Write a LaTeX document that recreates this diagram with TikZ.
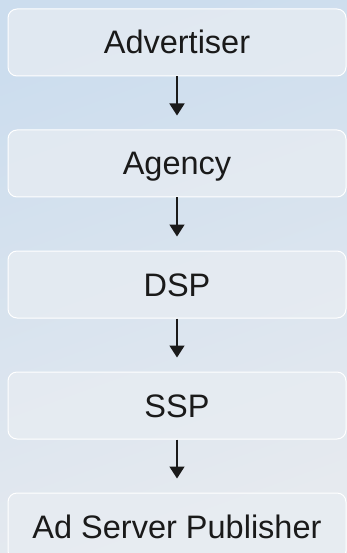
\documentclass[tikz,border=0pt]{standalone}
\usepackage{fontspec}
\setmainfont{Liberation Sans}
\usepackage{tikz}
\usetikzlibrary{positioning,arrows.meta}
\definecolor{bgtop}{HTML}{CCDDEE}
\definecolor{bgbot}{HTML}{E6EAEF}
\definecolor{boxfill}{HTML}{E8EDF3}
\definecolor{ink}{HTML}{1A1A1A}

\begin{document}
\begin{tikzpicture}[x=1pt,y=-1pt]
    \tikzstyle{party}=[draw=white, line width=1pt, fill=boxfill, fill opacity=0.75, text opacity=1,
      rounded corners=9pt, minimum width=338pt, minimum height=67pt,
      text height=23pt, text depth=0pt, text=ink, font=\fontsize{32.5}{36}\selectfont]
    \tikzstyle{flow}=[ink, line width=1.6pt, -{Triangle[width=15pt,length=12pt]}, shorten >=14pt]
    \useasboundingbox (0,0) rectangle (347,553);
    \shade[top color=bgtop, bottom color=bgbot, shading angle=20] (0,0) rectangle (347,553);
    \node[party] (advertiser) at (177,42.5) {Advertiser};
    \node[party, below=53pt of advertiser] (agency) {Agency};
    \node[party, below=53pt of agency] (dsp) {DSP};
    \node[party, below=53pt of dsp] (ssp) {SSP};
    \node[party, below=53pt of ssp] (adserver) {Ad Server Publisher};
    \draw[flow] (advertiser) -- (agency);
    \draw[flow] (agency) -- (dsp);
    \draw[flow] (dsp) -- (ssp);
    \draw[flow] (ssp) -- (adserver);
\end{tikzpicture}
\end{document}
